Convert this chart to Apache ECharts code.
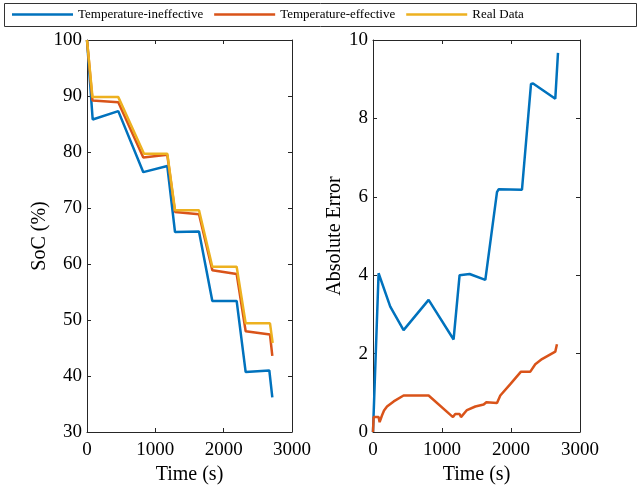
<!DOCTYPE html>
<html><head><meta charset="utf-8">
<script src="https://cdn.jsdelivr.net/npm/echarts@6/dist/echarts.min.js"></script>
<style>html,body{margin:0;padding:0;background:#fff}#c{width:640px;height:490px}</style>
</head><body><div id="c"></div>
<script>
// Left panel: SoC (%)
var realT = [0, 80, 458, 834, 1175, 1288, 1639, 1834, 2190, 2322, 2678, 2717];
var realV = [100, 89.8, 89.8, 79.7, 79.7, 69.6, 69.6, 59.5, 59.5, 49.4, 49.4, 45.9];
var effT = [0, 80, 458, 824, 1175, 1288, 1639, 1834, 2190, 2322, 2678, 2712];
var effV = [100, 89.2, 88.9, 79.0, 79.5, 69.3, 68.9, 58.9, 58.2, 48.0, 47.4, 43.6];
var ineT = [0, 83, 458, 824, 1175, 1288, 1639, 1834, 2190, 2322, 2668, 2712];
var ineV = [100, 85.8, 87.3, 76.4, 77.5, 65.7, 65.8, 53.4, 53.4, 40.7, 41.0, 36.2];
// Right panel: Absolute Error
var errIneT = [0, 81, 250, 443, 806, 1168, 1255, 1400, 1628, 1797, 1820, 2159, 2290, 2320, 2642, 2681];
var errIneV = [0, 4.05, 3.2, 2.6, 3.37, 2.36, 4.0, 4.03, 3.88, 6.12, 6.19, 6.18, 8.88, 8.89, 8.5, 9.67];
var errEffT = [0, 9, 81, 96, 130, 160, 203, 300, 443, 806, 1159, 1192, 1255, 1275, 1362, 1483, 1604, 1643, 1797, 1845, 1990, 2145, 2280, 2304, 2352, 2449, 2642, 2666];
var errEffV = [0, 0.38, 0.38, 0.25, 0.42, 0.55, 0.65, 0.78, 0.93, 0.93, 0.38, 0.46, 0.46, 0.38, 0.56, 0.65, 0.7, 0.76, 0.74, 0.93, 1.22, 1.54, 1.54, 1.5, 1.73, 1.86, 2.05, 2.24];
var xTicks = [0, 1000, 2000, 3000];
var names = ['Temperature-ineffective', 'Temperature-effective', 'Real Data'];

function pairs(t, v) { return t.map(function (x, i) { return [x, v[i]]; }); }
var C = ['#0072BD', '#D95319', '#EDB120'];
var FONT = 'Liberation Serif';
var axisCol = '#262626';

function xAx(gi, show) {
  return {
    type: 'value', gridIndex: gi, min: xTicks[0], max: xTicks[xTicks.length - 1], interval: 1000,
    position: show ? 'bottom' : 'top',
    name: show ? 'Time (s)' : '', nameLocation: 'middle', nameGap: 33,
    nameTextStyle: { fontFamily: FONT, fontSize: 20, color: '#000' },
    axisLine: { show: true, onZero: false, lineStyle: { color: axisCol, width: 1 } },
    axisTick: { show: true, inside: true, length: 4, lineStyle: { color: axisCol } },
    axisLabel: { show: show, fontFamily: FONT, fontSize: 19, color: '#000', margin: 9,
      formatter: function (v) { return String(v); } },
    splitLine: { show: false }
  };
}
function yAx(gi, show, min, max, iv, nm, gap) {
  return {
    type: 'value', gridIndex: gi, min: min, max: max, interval: iv,
    position: show ? 'left' : 'right',
    name: show ? nm : '', nameLocation: 'middle', nameGap: gap,
    nameTextStyle: { fontFamily: FONT, fontSize: 20, color: '#000' },
    axisLine: { show: true, onZero: false, lineStyle: { color: axisCol, width: 1 } },
    axisTick: { show: true, inside: true, length: 4, lineStyle: { color: axisCol } },
    axisLabel: { show: show, fontFamily: FONT, fontSize: 19, color: '#000', margin: 5 },
    splitLine: { show: false }
  };
}
function ser(name, xi, yi, data, col) {
  return { name: name, type: 'line', xAxisIndex: xi, yAxisIndex: yi, data: data,
    symbol: 'none', lineStyle: { color: col, width: 2.5 }, itemStyle: { color: col },
    animation: false };
}

var chart = echarts.init(document.getElementById('c'), null, { renderer: 'canvas' });
chart.setOption({
  animation: false,
  backgroundColor: '#fff',
  grid: [
    { left: 87, right: 348, top: 40, bottom: 55 },
    { left: 373, right: 60, top: 40, bottom: 55 }
  ],
  xAxis: [xAx(0, true), xAx(0, false), xAx(1, true), xAx(1, false)],
  yAxis: [
    yAx(0, true, 30, 100, 10, 'SoC (%)', 36), yAx(0, false, 30, 100, 10, '', 0),
    yAx(1, true, 0, 10, 2, 'Absolute Error', 24), yAx(1, false, 0, 10, 2, '', 0)
  ],
  legend: {
    data: names, left: 12, top: 8, padding: 0, icon: 'rect', itemWidth: 61, itemHeight: 2.5, itemGap: 11,
    textStyle: { fontFamily: FONT, fontSize: 13, color: '#000' }
  },
  graphic: [{ type: 'rect', shape: { x: 4.5, y: 3.5, width: 632, height: 23 },
    style: { fill: 'none', stroke: '#333', lineWidth: 1 }, z: 100 }],
  series: [
    ser(names[0], 0, 0, pairs(ineT, ineV), C[0]),
    ser(names[1], 0, 0, pairs(effT, effV), C[1]),
    ser(names[2], 0, 0, pairs(realT, realV), C[2]),
    ser(names[0], 2, 2, pairs(errIneT, errIneV), C[0]),
    ser(names[1], 2, 2, pairs(errEffT, errEffV), C[1])
  ]
});
</script></body></html>
